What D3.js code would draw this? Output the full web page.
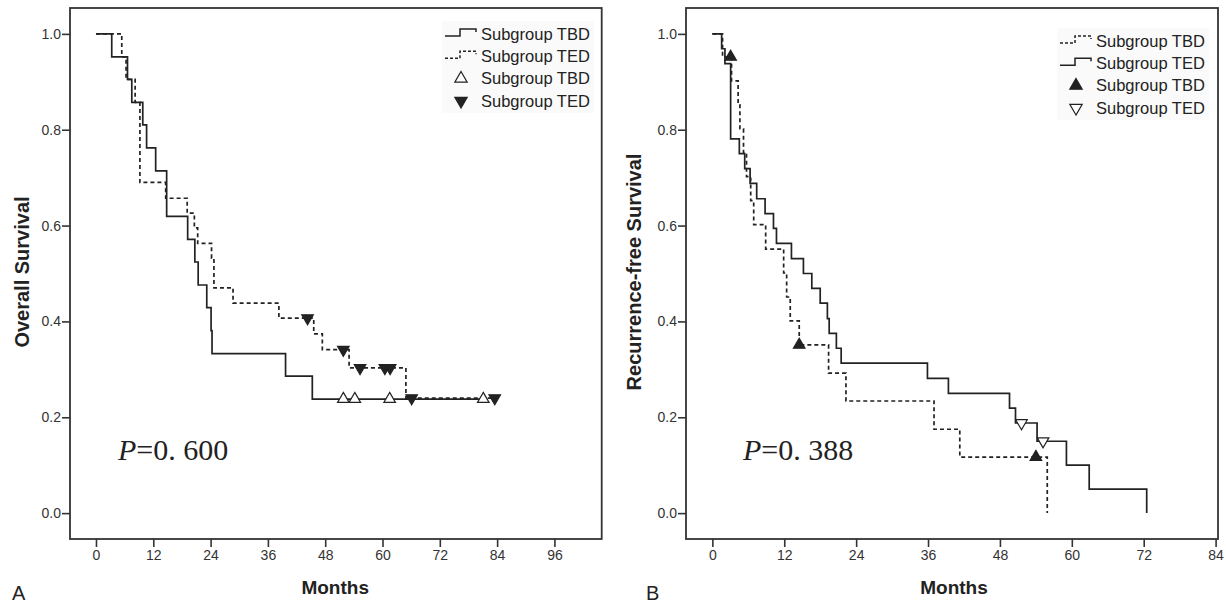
<!DOCTYPE html>
<html>
<head>
<meta charset="utf-8">
<script src="https://cdn.jsdelivr.net/npm/d3@7"></script>
<style>
  body { margin: 0; background: #fff; }
  svg { display: block; font-family: "Liberation Sans", Arial, sans-serif; }
</style>
</head>
<body>
<svg id="chart" width="1226" height="603"></svg>
<script>
// Panel A - overall survival (months of each drop, survival after the drop)
var osTbdTime = [3.3, 6.6, 7.5, 9.8, 10.6, 12.5, 14.8, 19.2, 20.7, 21.4, 23.2, 24.1, 24.3, 39.7, 45.3];
var osTbdSurv = [0.952, 0.905, 0.857, 0.810, 0.762, 0.714, 0.619, 0.571, 0.524, 0.476, 0.429, 0.381, 0.333, 0.286, 0.238];
var osTbdLast = 81.1;
var osTbdCensored = [51.8, 54.2, 61.5, 81.1];

var osTedTime = [5.4, 6.3, 8.2, 9.2, 14.6, 19.1, 20.6, 21.3, 24.2, 24.7, 28.7, 38.3, 45.6, 47.4, 53.0, 64.9];
var osTedSurv = [0.952, 0.905, 0.857, 0.690, 0.657, 0.626, 0.595, 0.563, 0.532, 0.470, 0.438, 0.407, 0.374, 0.341, 0.303, 0.240];
var osTedLast = 83.5;
var osTedCensored = [44.3, 51.8, 55.3, 60.5, 61.6, 66.1, 83.5];

// Panel B - recurrence-free survival
var rfsTbdTime = [1.7, 3.2, 4.3, 4.6, 5.2, 5.7, 6.4, 6.9, 8.9, 11.9, 12.4, 13.0, 14.5, 19.4, 22.3, 37.0, 41.3, 55.9];
var rfsTbdSurv = [0.952, 0.902, 0.852, 0.802, 0.752, 0.702, 0.652, 0.602, 0.551, 0.501, 0.451, 0.401, 0.351, 0.292, 0.234, 0.175, 0.117, 0.0];
var rfsTbdLast = 55.9;
var rfsTbdCensored = [3.05, 14.5, 54.0];

var rfsTedTime = [1.55, 2.1, 3.05, 4.5, 5.4, 6.3, 7.4, 8.8, 10.2, 10.7, 13.2, 15.2, 16.6, 18.0, 19.2, 19.5, 20.7, 21.5, 35.9, 39.4, 49.6, 50.6, 54.2, 59.1, 62.9, 72.5];
var rfsTedSurv = [0.969, 0.938, 0.781, 0.750, 0.719, 0.688, 0.656, 0.625, 0.594, 0.563, 0.531, 0.500, 0.469, 0.438, 0.406, 0.375, 0.344, 0.313, 0.281, 0.250, 0.219, 0.188, 0.150, 0.100, 0.050, 0.0];
var rfsTedLast = 72.5;
var rfsTedCensored = [51.6, 55.2];

// tick labels
var yTicks = [0, 0.2, 0.4, 0.6, 0.8, 1.0];
var xTicksA = [0, 12, 24, 36, 48, 60, 72, 84, 96];
var xTicksB = [0, 12, 24, 36, 48, 60, 72, 84];

var legendA = ["Subgroup TBD", "Subgroup TED", "Subgroup TBD", "Subgroup TED"];
var legendB = ["Subgroup TBD", "Subgroup TED", "Subgroup TBD", "Subgroup TED"];

var svg = d3.select("#chart");
var ink = "#222";

// step points for a KM curve, starting at (0, 1)
function stepPoints(times, survs, last) {
  var pts = [[0, 1]];
  times.forEach(function(t, i) { pts.push([t, survs[i]]); });
  if (last > times[times.length - 1]) pts.push([last, survs[survs.length - 1]]);
  return pts;
}

function survAt(times, survs, t) {
  var s = 1;
  times.forEach(function(tt, i) { if (tt <= t) s = survs[i]; });
  return s;
}

function drawPanel(p) {
  var x = d3.scaleLinear().domain(p.xDomain).range(p.xRange);
  var y = d3.scaleLinear().domain([-0.054, 1.054]).range([539, 8]);
  var g = svg.append("g");

  // axes (frame is drawn separately)
  var ya = g.append("g")
    .attr("transform", "translate(" + p.xRange[0] + ",0)")
    .call(d3.axisLeft(y).tickValues(yTicks).tickFormat(d3.format(".1f")).tickSize(8).tickPadding(1));
  var xa = g.append("g")
    .attr("transform", "translate(0,539)")
    .call(d3.axisBottom(x).tickValues(p.xTicks).tickSize(8).tickPadding(3));
  [ya, xa].forEach(function(a) {
    a.attr("font-size", null).attr("font-family", null);
    a.select(".domain").remove();
    a.selectAll(".tick line").attr("stroke", "#333").attr("stroke-width", 1.6);
    a.selectAll(".tick text").attr("fill", "#333").style("font-size", "14px");
  });

  g.append("rect")
    .attr("x", p.xRange[0]).attr("y", 8)
    .attr("width", p.xRange[1] - p.xRange[0]).attr("height", 531)
    .attr("fill", "none").attr("stroke", "#333").attr("stroke-width", 1.8);

  var line = d3.line()
    .x(function(d) { return x(d[0]); })
    .y(function(d) { return y(d[1]); })
    .curve(d3.curveStepAfter);

  p.curves.forEach(function(c) {
    g.append("path")
      .attr("d", line(stepPoints(c.time, c.surv, c.last)))
      .attr("fill", "none")
      .attr("stroke", ink)
      .attr("stroke-width", 1.7)
      .attr("stroke-dasharray", c.dashed ? "4,3" : null);
  });

  p.curves.forEach(function(c) {
    g.selectAll(null)
      .data(c.censored)
      .enter().append("path")
      .attr("d", d3.symbol(d3.symbolTriangle, 58)())
      .attr("transform", function(t) {
        return "translate(" + x(t) + "," + y(survAt(c.time, c.surv, t)) + ")" + (c.down ? " rotate(180)" : "");
      })
      .attr("fill", c.filled ? ink : "#fff")
      .attr("stroke", ink)
      .attr("stroke-width", 1.2);
  });

  // legend
  var lg = g.append("g");
  lg.append("rect")
    .attr("x", p.legX - 3).attr("y", p.legY - 13)
    .attr("width", 152).attr("height", 4 * 22 + 4)
    .attr("fill", "#fafafa");
  p.legend.forEach(function(label, i) {
    var cy = p.legY + i * 22.3;
    var c = p.curves[p.legOrder[i]];
    if (i < 2) {
      lg.append("path")
        .attr("d", "M" + p.legX + "," + (cy + 2) + "H" + (p.legX + 15) + "V" + (cy - 5) + "H" + (p.legX + 31) + "V" + (cy - 2))
        .attr("fill", "none").attr("stroke", ink).attr("stroke-width", 1.5)
        .attr("stroke-dasharray", c.dashed ? "3,2" : null);
    } else {
      lg.append("path")
        .attr("d", d3.symbol(d3.symbolTriangle, 66)())
        .attr("transform", "translate(" + (p.legX + 16) + "," + cy + ")" + (c.down ? " rotate(180)" : ""))
        .attr("fill", c.filled ? ink : "#fff")
        .attr("stroke", ink).attr("stroke-width", 1.2);
    }
    lg.append("text")
      .attr("x", p.legX + 36).attr("y", cy)
      .attr("dy", "0.35em")
      .style("font-size", "16.5px").attr("fill", "#222")
      .text(label);
  });

  // p value
  var pt = g.append("text")
    .attr("x", p.pX).attr("y", 460)
    .style("font-family", "'Liberation Serif', 'Times New Roman', serif")
    .style("font-size", "30px").attr("fill", "#222");
  pt.append("tspan").style("font-style", "italic").text("P");
  pt.append("tspan").text(p.pText);

  // axis titles
  g.append("text")
    .attr("transform", "translate(" + p.yTitleX + ",272) rotate(-90)")
    .attr("text-anchor", "middle").attr("dy", "0.35em")
    .style("font-size", "20px").style("font-weight", "bold").attr("fill", "#222")
    .text(p.yTitle);
  g.append("text")
    .attr("x", (x(p.xTicks[0]) + x(p.xTicks[p.xTicks.length - 1])) / 2 + p.monthsShift)
    .attr("y", 594)
    .attr("text-anchor", "middle")
    .style("font-size", "19px").style("font-weight", "bold").attr("fill", "#222")
    .text("Months");
  g.append("text")
    .attr("x", p.tagX).attr("y", 600)
    .style("font-size", "20px").attr("fill", "#222")
    .text(p.tag);
}

drawPanel({
  xDomain: [-5.44, 105.9], xRange: [70, 601.7], xTicks: xTicksA,
  curves: [
    { time: osTbdTime, surv: osTbdSurv, last: osTbdLast, censored: osTbdCensored, dashed: false, filled: false, down: false },
    { time: osTedTime, surv: osTedSurv, last: osTedLast, censored: osTedCensored, dashed: true, filled: true, down: true }
  ],
  legend: legendA, legOrder: [0, 1, 0, 1], legX: 445, legY: 34,
  pX: 118, pText: "=0. 600",
  yTitle: "Overall Survival", yTitleX: 22, monthsShift: 10,
  tag: "A", tagX: 12
});

drawPanel({
  xDomain: [-4.4, 84.4], xRange: [686, 1218], xTicks: xTicksB,
  curves: [
    { time: rfsTbdTime, surv: rfsTbdSurv, last: rfsTbdLast, censored: rfsTbdCensored, dashed: true, filled: true, down: false },
    { time: rfsTedTime, surv: rfsTedSurv, last: rfsTedLast, censored: rfsTedCensored, dashed: false, filled: false, down: true }
  ],
  legend: legendB, legOrder: [0, 1, 0, 1], legX: 1060, legY: 41,
  pX: 743, pText: "=0. 388",
  yTitle: "Recurrence-free Survival", yTitleX: 634, monthsShift: -10,
  tag: "B", tagX: 646
});
</script>
</body>
</html>
